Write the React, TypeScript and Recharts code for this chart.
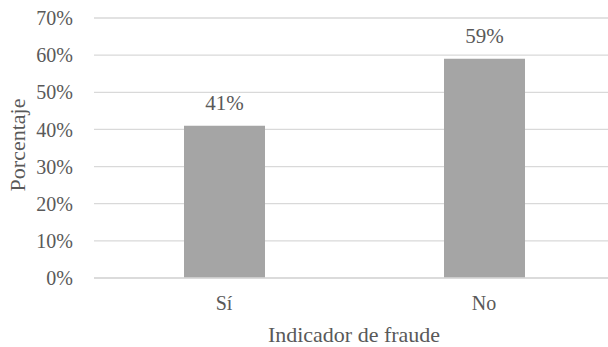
import React from 'react';
import { BarChart, Bar, XAxis, YAxis, CartesianGrid, LabelList, Label } from 'recharts';

const categories = ['Sí', 'No'];
const values = [0.41, 0.59];
const yTicks = [0, 0.1, 0.2, 0.3, 0.4, 0.5, 0.6, 0.7];

const data = categories.map((c, i) => ({ name: c, value: values[i] }));

const FONT = "'Liberation Serif', 'Times New Roman', 'DejaVu Serif', serif";
const TEXT = '#595959';
const pct = (v: number) => `${Math.round(v * 100)}%`;

export default function App() {
  return (
    <div style={{ position: 'absolute', left: 0, top: 0, width: 608, height: 347, overflow: 'hidden', background: '#fff', fontFamily: FONT }}>
      <style>{`svg text, svg tspan { font-family: ${FONT} !important; }`}</style>
      <BarChart
        width={614}
        height={347}
        data={data}
        margin={{ top: 18, right: 0, left: 0, bottom: 0 }}
      >
        <CartesianGrid vertical={false} stroke="#D9D9D9" strokeWidth={1.3} />
        <XAxis
          dataKey="name"
          height={69}
          tickLine={false}
          tickSize={0}
          tickMargin={18}
          axisLine={{ stroke: '#D9D9D9', strokeWidth: 1.3 }}
          tick={{ fill: TEXT, fontSize: 20 }}
        >
          <Label
            content={(props: any) => {
              const vb = props.viewBox || {};
              const cx = vb.x + vb.width / 2;
              return (
                <text x={cx} y={vb.y + 64} textAnchor="middle" fill={TEXT} fontSize={22}>
                  Indicador de fraude
                </text>
              );
            }}
          />
        </XAxis>
        <YAxis
          width={94}
          domain={[0, 0.7]}
          ticks={yTicks}
          tickFormatter={pct}
          axisLine={false}
          tickLine={false}
          tickSize={0}
          tickMargin={21}
          tick={{ fill: TEXT, fontSize: 20 }}
        >
          <Label
            content={(props: any) => {
              const vb = props.viewBox || {};
              const cx = 17.5;
              const cy = vb.y + vb.height / 2 - 3;
              return (
                <text
                  x={cx}
                  y={cy}
                  transform={`rotate(-90 ${cx} ${cy})`}
                  textAnchor="middle"
                  dominantBaseline="central"
                  fill={TEXT}
                  fontSize={22}
                >
                  Porcentaje
                </text>
              );
            }}
          />
        </YAxis>
        <Bar dataKey="value" fill="#A5A5A5" barSize={81} isAnimationActive={false}>
          <LabelList dataKey="value" position="top" offset={16} formatter={pct} fill={TEXT} fontSize={21} />
        </Bar>
      </BarChart>
    </div>
  );
}
